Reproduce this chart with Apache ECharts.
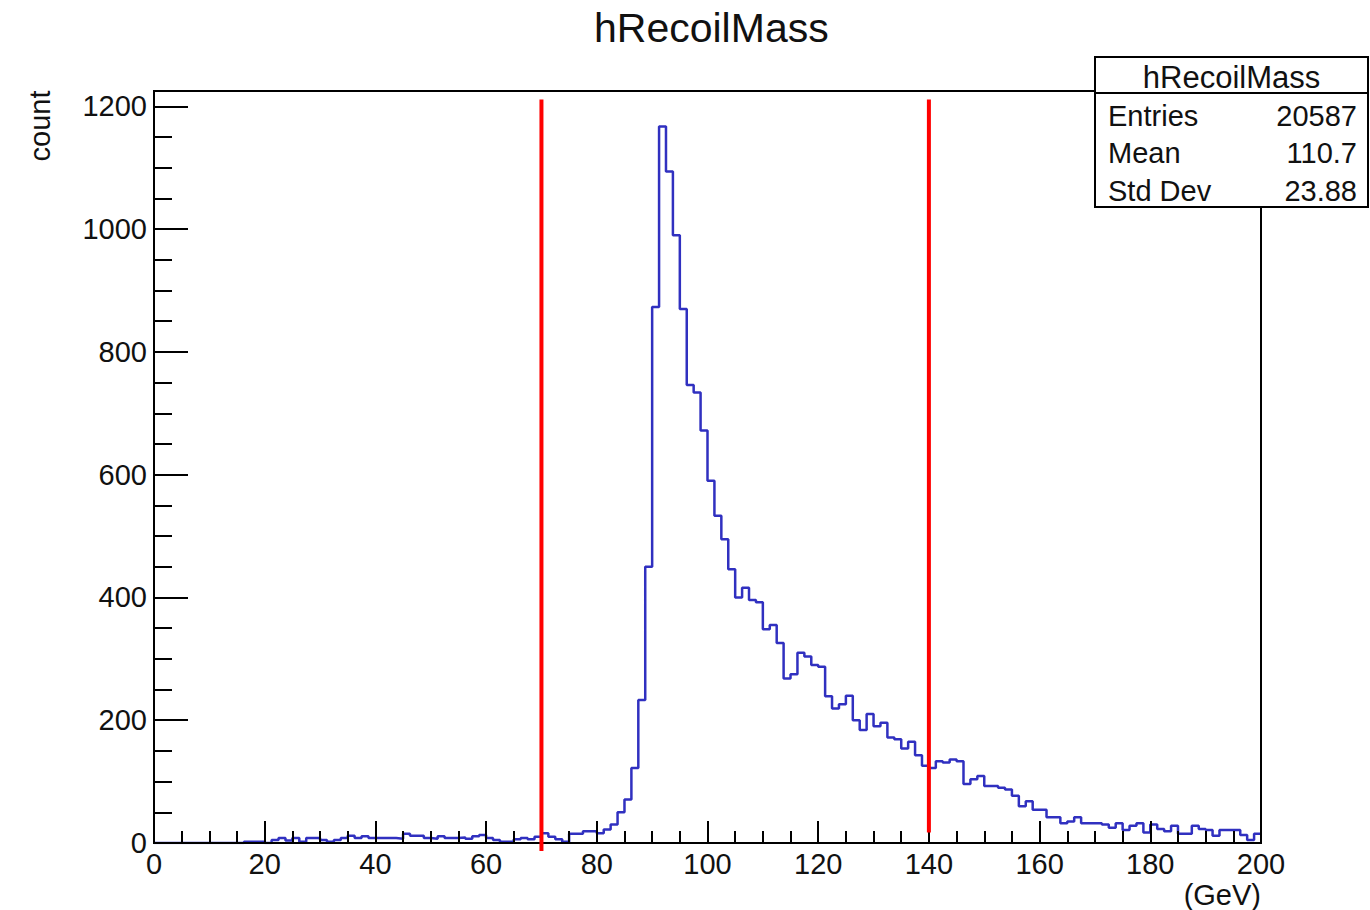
<!DOCTYPE html>
<html>
<head>
<meta charset="utf-8">
<script src="https://cdn.jsdelivr.net/npm/echarts@6/dist/echarts.min.js"></script>
<style>
html,body{margin:0;padding:0;background:#ffffff;}
#chart{width:1370px;height:910px;}
</style>
</head>
<body>
<div id="chart"></div>
<script>
// ---- data ----
const chartTitle = 'hRecoilMass';
const xAxisName = '(GeV)';
const yAxisName = 'count';
const binLow = 0;
const binWidth = 1.25;
// counts per 1.25 GeV bin, from 0 to 200 GeV (160 bins)
const counts = [
  0, 0, 0, 0, 0, 0, 0, 0, 0, 0,
  0, 0, 0, 2, 2, 2, 0, 5, 8, 4,
  8, 2, 8, 8, 5, 2, 5, 8, 12, 8,
  11, 8, 8, 8, 8, 7, 15, 12, 12, 8,
  7, 11, 8, 8, 9, 7, 11, 13, 8, 5,
  2, 2, 6, 8, 6, 10, 16, 10, 6, 2,
  15, 15, 19, 19, 16, 22, 30, 50, 71, 122,
  233, 450, 873, 1167, 1094, 990, 870, 746, 734, 672,
  590, 533, 495, 446, 400, 416, 396, 392, 348, 355,
  326, 268, 275, 310, 304, 290, 287, 239, 219, 226,
  240, 200, 184, 210, 190, 196, 172, 169, 154, 165,
  143, 126, 122, 133, 131, 136, 133, 96, 104, 109,
  93, 93, 90, 87, 77, 60, 68, 54, 54, 42,
  42, 32, 35, 42, 32, 32, 32, 30, 25, 32,
  21, 28, 32, 17, 30, 23, 19, 28, 15, 15,
  28, 23, 21, 12, 21, 21, 21, 13, 5, 15
];
const xMin = 0, xMax = 200, xInterval = 20;
const yMin = 0, yMax = 1225, yInterval = 200;
const cutPositions = [70, 140];
const cutBottoms = [-13, 17];
const cutTop = 1211;
const statsHeader = 'hRecoilMass';
const statsLabels = ['Entries', 'Mean', 'Std Dev'];
const statsValues = ['20587', '110.7', '23.88'];

// ---- build ----
const stepData = counts.map((c, i) => [binLow + i * binWidth, c]);
stepData.push([binLow + counts.length * binWidth, counts[counts.length - 1]]);

const FONT = 'Liberation Sans, Arial, Helvetica, sans-serif';
const chart = echarts.init(document.getElementById('chart'), null, {renderer: 'svg'});

const cutSeries = cutPositions.map((x, k) => ({
  type: 'line',
  data: [[x, cutBottoms[k]], [x, cutTop]],
  symbol: 'none',
  clip: false,
  silent: true,
  z: 8,
  lineStyle: {color: '#ff0000', width: 4},
  animation: false
}));

const statsGraphics = [];
const boxX = 1095, boxY = 57, boxW = 273, boxH = 150, headH = 36, rowH = 37.5;
statsGraphics.push({type: 'rect', shape: {x: boxX, y: boxY, width: boxW, height: boxH},
  style: {fill: '#ffffff', stroke: '#000000', lineWidth: 2}, z: 100});
statsGraphics.push({type: 'line', shape: {x1: boxX, y1: boxY + headH, x2: boxX + boxW, y2: boxY + headH},
  style: {stroke: '#000000', lineWidth: 2}, z: 101});
statsGraphics.push({type: 'text', x: boxX + boxW / 2, y: boxY + headH / 2 + 2, z: 101,
  style: {text: statsHeader, fontSize: 31, fontFamily: FONT, fill: '#111', textAlign: 'center', textVerticalAlign: 'middle'}});
statsLabels.forEach((lab, i) => {
  const yy = boxY + headH + rowH * (i + 0.5) + 4;
  statsGraphics.push({type: 'text', x: boxX + 13, y: yy, z: 101,
    style: {text: lab, fontSize: 29, fontFamily: FONT, fill: '#111', textAlign: 'left', textVerticalAlign: 'middle'}});
  statsGraphics.push({type: 'text', x: boxX + boxW - 11, y: yy, z: 101,
    style: {text: statsValues[i], fontSize: 29, fontFamily: FONT, fill: '#111', textAlign: 'right', textVerticalAlign: 'middle'}});
});

const option = {
  animation: false,
  backgroundColor: '#ffffff',
  title: {
    text: chartTitle,
    left: 589,
    top: 2,
    textStyle: {fontSize: 41, fontWeight: 'normal', color: '#111', fontFamily: FONT}
  },
  grid: {
    left: 154, right: 109, top: 91, bottom: 67,
    show: true, borderColor: '#000000', borderWidth: 2, backgroundColor: 'transparent',
    containLabel: false, outerBoundsMode: 'none'
  },
  xAxis: {
    type: 'value', min: xMin, max: xMax, interval: xInterval, z: 5,
    name: xAxisName, nameLocation: 'end', nameGap: 0,
    nameTextStyle: {fontSize: 29, color: '#111', fontFamily: FONT, align: 'right', verticalAlign: 'top', padding: [37, 0, 0, 0]},
    axisLine: {show: true, onZero: false, lineStyle: {color: '#000', width: 2}},
    axisTick: {show: true, inside: true, length: 22, lineStyle: {color: '#000', width: 2}},
    minorTick: {show: true, splitNumber: 4, length: 12, lineStyle: {color: '#000', width: 2}},
    axisLabel: {fontSize: 29, color: '#111', fontFamily: FONT, margin: 6},
    splitLine: {show: false}, minorSplitLine: {show: false}
  },
  yAxis: {
    type: 'value', min: yMin, max: yMax, interval: yInterval, z: 5,
    axisLine: {show: true, onZero: false, lineStyle: {color: '#000', width: 2}},
    axisTick: {show: true, inside: true, length: 34, lineStyle: {color: '#000', width: 2}},
    minorTick: {show: true, splitNumber: 4, length: 18, lineStyle: {color: '#000', width: 2}},
    axisLabel: {fontSize: 29, color: '#111', fontFamily: FONT, margin: 7,
      formatter: v => (v % yInterval === 0 ? String(v) : '')},
    splitLine: {show: false}, minorSplitLine: {show: false}
  },
  series: [{
    type: 'line',
    name: chartTitle,
    data: stepData,
    step: 'end',
    symbol: 'none',
    z: 3,
    lineStyle: {color: '#3030c0', width: 2.5},
    animation: false
  }].concat(cutSeries),
  graphic: [{
    type: 'text', x: 40, y: 126, rotation: Math.PI / 2, z: 50,
    style: {text: yAxisName, fontSize: 29, fontFamily: FONT, fill: '#111', textAlign: 'center', textVerticalAlign: 'middle'}
  }].concat(statsGraphics)
};
chart.setOption(option);
</script>
</body>
</html>
